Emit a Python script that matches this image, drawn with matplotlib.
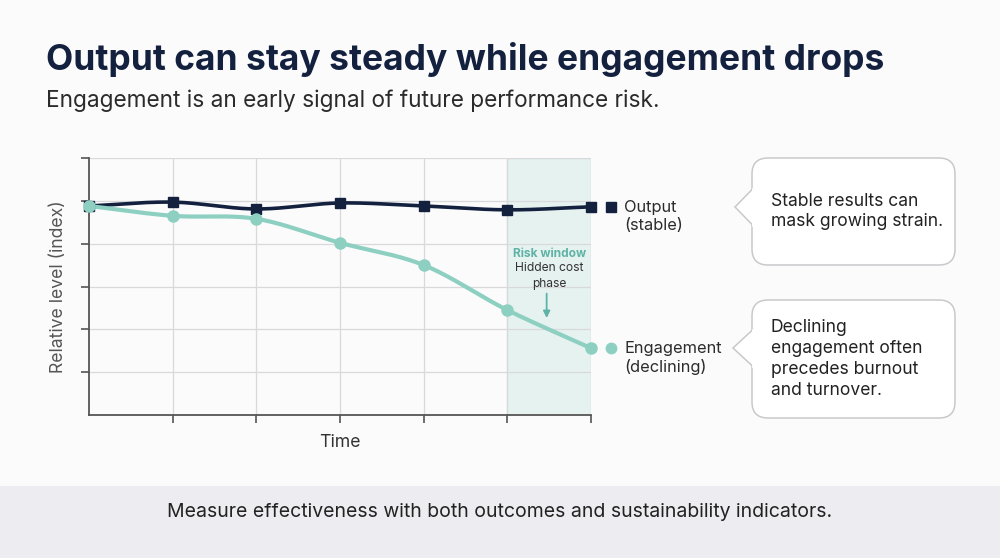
import numpy as np
import matplotlib
matplotlib.use("Agg")
import matplotlib.pyplot as plt
from matplotlib.patches import FancyBboxPatch, Rectangle, Polygon

# Data (relative index)
periods = [0, 1, 2, 3, 4, 5, 6]
output_vals = [4.88, 4.97, 4.81, 4.95, 4.88, 4.79, 4.86]
engagement_vals = [4.88, 4.65, 4.58, 4.02, 3.50, 2.45, 1.56]
risk_window = (5, 6)

NAVY = "#13213f"
TEAL = "#8dd0c2"
GRID = "#d9d9dc"
TEXT = "#2b2b2b"
plt.rcParams['font.family'] = ['Inter', 'DejaVu Sans']


def smooth(x, y, n=30):
    # Hermite curve through the points, used for drawing only
    x = np.asarray(x, float)
    y = np.asarray(y, float)
    m = np.gradient(y, x)
    xs, ys = [], []
    for i in range(len(x) - 1):
        h = x[i + 1] - x[i]
        t = np.linspace(0, 1, n)
        h00 = 2*t**3 - 3*t**2 + 1
        h10 = t**3 - 2*t**2 + t
        h01 = -2*t**3 + 3*t**2
        h11 = t**3 - t**2
        xs.append(x[i] + t*h)
        ys.append(h00*y[i] + h10*h*m[i] + h01*y[i+1] + h11*h*m[i+1])
    return np.concatenate(xs), np.concatenate(ys)


fig = plt.figure(figsize=(10, 5.58), dpi=100)
fig.patch.set_facecolor("#fbfbfc")

# overlay in pixel coords for the decorations
deco = fig.add_axes([0, 0, 1, 1])
deco.set_xlim(0, 1000)
deco.set_ylim(558, 0)
deco.axis("off")
deco.add_patch(Rectangle((0, 486), 1000, 72, facecolor="#ededf1", edgecolor="none"))

fig.text(0.046, 1 - 59/558, "Output can stay steady while engagement drops",
         fontsize=25.5, fontweight="bold", color=NAVY, va="center")
fig.text(0.046, 1 - 101/558, "Engagement is an early signal of future performance risk.",
         fontsize=16.3, color=TEXT, va="center")
fig.text(0.5, 1 - 512/558, "Measure effectiveness with both outcomes and sustainability indicators.",
         fontsize=14, color="#222222", ha="center", va="center")

ax = fig.add_axes([0.089, 1 - 415/558, 0.502, (415 - 158)/558])
ax.set_facecolor("none")
ax.set_xlim(0, 6)
ax.set_ylim(0, 6)
ax.set_xticks(periods[1:])
ax.set_yticks([1, 2, 3, 4, 5, 6])
ax.set_xticklabels([])
ax.set_yticklabels([])
ax.grid(True, color=GRID, linewidth=0.9)
ax.set_axisbelow(True)
for s in ["top", "right"]:
    ax.spines[s].set_visible(False)
for s in ["left", "bottom"]:
    ax.spines[s].set_color("#555555")
    ax.spines[s].set_linewidth(1.3)
ax.tick_params(length=6, width=1.2, color="#555555", direction="out")

ax.axvspan(*risk_window, facecolor="#e4f2ef", edgecolor="#cfe6e1", alpha=0.9, zorder=0.5)

sx, sy = smooth(periods, output_vals)
ax.plot(sx, sy, color=NAVY, lw=2.6, zorder=3, clip_on=False)
ax.plot(periods, output_vals, "s", color=NAVY, ms=7.5, zorder=4, clip_on=False)
ex, ey = smooth(periods, engagement_vals)
ax.plot(ex, ey, color=TEAL, lw=3, zorder=3, clip_on=False)
ax.plot(periods, engagement_vals, "o", color=TEAL, ms=8, zorder=4, clip_on=False)

ax.set_ylabel("Relative level (index)", fontsize=12.7, color="#555555", labelpad=6)
ax.set_xlabel("Time", fontsize=12.7, color="#333333", labelpad=4)

# risk window annotation
mid = sum(risk_window) / 2
ax.text(mid, 3.77, "Risk window", color="#5fb3a6", fontsize=8.6, fontweight="bold",
        ha="center", va="center")
ax.text(mid, 3.24, "Hidden cost\nphase", color="#333333", fontsize=8.7,
        ha="center", va="center", linespacing=1.4)
ax.annotate("", xy=(5.47, 2.2), xytext=(5.47, 2.9),
            arrowprops=dict(arrowstyle="-|>", color="#5fb3a6", lw=1.3, mutation_scale=10))

# end labels
ax.plot([6.24], [output_vals[-1]], "s", color=NAVY, ms=6.5, clip_on=False)
ax.text(6.4, output_vals[-1] - 0.23, "Output\n(stable)", fontsize=11.8, color=TEXT,
        va="center", ha="left", linespacing=1.25)
ax.plot([6.24], [engagement_vals[-1]], "o", color=TEAL, ms=7.5, clip_on=False)
ax.text(6.4, engagement_vals[-1] - 0.23, "Engagement\n(declining)", fontsize=11.8, color=TEXT,
        va="center", ha="left", linespacing=1.25)


def callout(x0, y0, x1, y1, tip_y, tip_x, text):
    box = FancyBboxPatch((x0, y0), x1 - x0, y1 - y0,
                         boxstyle="round,pad=0,rounding_size=16",
                         facecolor="white", edgecolor="#c9c9cc", lw=1.1)
    deco.add_patch(box)
    tri = Polygon([(x0 + 1.5, tip_y - 19), (tip_x, tip_y), (x0 + 1.5, tip_y + 19)],
                  closed=False, facecolor="white", edgecolor="#c9c9cc", lw=1.1)
    deco.add_patch(tri)
    deco.plot([x0 + 1.3, x0 + 1.3], [tip_y - 18, tip_y + 18], color="white", lw=2)
    deco.text(x0 + 19, (y0 + y1) / 2, text, fontsize=12.6, color="#222222",
              va="center", ha="left", linespacing=1.3)


callout(752, 158, 955, 265, 207, 735, "Stable results can\nmask growing strain.")
callout(752, 300, 955, 418, 348, 733,
        "Declining\nengagement often\nprecedes burnout\nand turnover.")

fig.savefig("out.png", dpi=100, facecolor=fig.get_facecolor())
